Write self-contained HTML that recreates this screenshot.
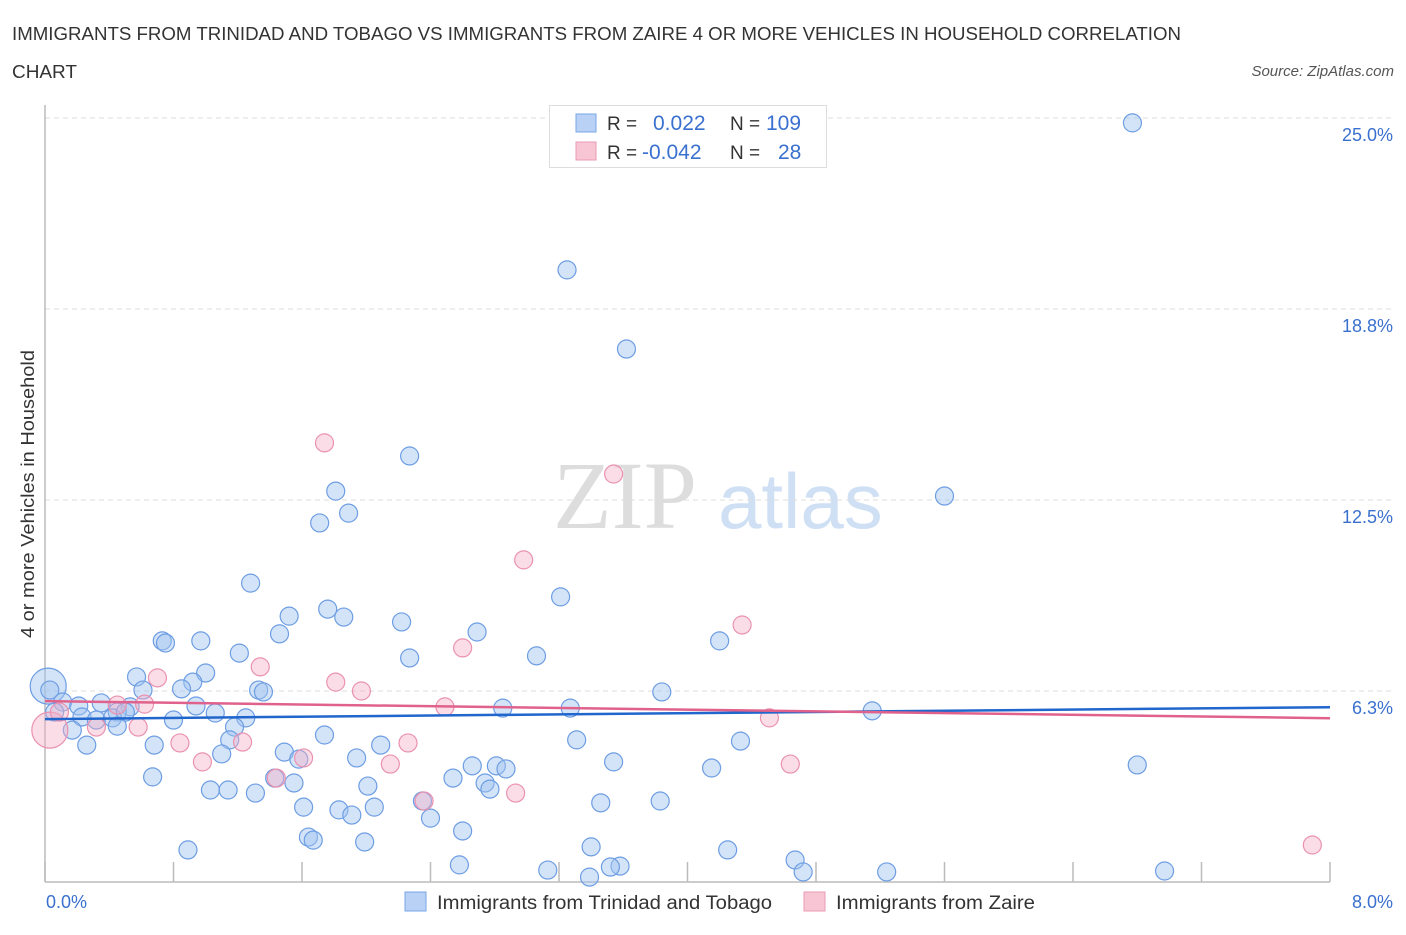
<!DOCTYPE html>
<html><head><meta charset="utf-8"><style>
body{margin:0;background:#fff;font-family:"Liberation Sans",sans-serif;}
svg text{font-family:"Liberation Sans",sans-serif;}
</style></head><body>
<svg width="1406" height="930" viewBox="0 0 1406 930" xmlns="http://www.w3.org/2000/svg">
<text x="12" y="40" font-size="18" fill="#333" textLength="1169" lengthAdjust="spacingAndGlyphs">IMMIGRANTS FROM TRINIDAD AND TOBAGO VS IMMIGRANTS FROM ZAIRE 4 OR MORE VEHICLES IN HOUSEHOLD CORRELATION</text>
<text x="12" y="78" font-size="18" fill="#333" textLength="65" lengthAdjust="spacingAndGlyphs">CHART</text>
<text x="1394" y="76" font-size="15" fill="#555" font-style="italic" text-anchor="end">Source: ZipAtlas.com</text>
<g>
<text x="553" y="528" font-size="96" fill="#ddd" font-family="Liberation Serif,serif" style="font-family:'Liberation Serif',serif">ZIP</text>
<text x="718" y="528" font-size="78" fill="#cfe0f5">atlas</text>
</g>
<g id="grid"></g>
<g id="axes"></g>
<g id="marks"></g>
<g id="trends"></g>
<text x="34" y="494" font-size="18" fill="#333" text-anchor="middle" textLength="288" lengthAdjust="spacingAndGlyphs" transform="rotate(-90 34 494)">4 or more Vehicles in Household</text>
<g>
<rect x="549.5" y="105.5" width="277" height="62" fill="#fff" stroke="#ddd"/>
<rect x="576" y="114" width="20" height="18" fill="#b8d1f5" stroke="#7aa6e6"/>
<rect x="576" y="142" width="20" height="18" fill="#f8c5d5" stroke="#eb9ab4"/>
<text x="607" y="130" font-size="19" fill="#333">R =</text>
<text x="653" y="130" font-size="21" fill="#3a70cf">0.022</text>
<text x="730" y="130" font-size="19" fill="#333">N =</text>
<text x="766" y="130" font-size="21" fill="#3a70cf">109</text>
<text x="607" y="159" font-size="19" fill="#333">R =</text>
<text x="642" y="159" font-size="21" fill="#3a70cf">-0.042</text>
<text x="730" y="159" font-size="19" fill="#333">N =</text>
<text x="778" y="159" font-size="21" fill="#3a70cf">28</text>
</g>
<g>
<rect x="405" y="892" width="21" height="19" fill="#b8d1f5" stroke="#7aa6e6"/>
<text x="437" y="909" font-size="19" fill="#333" textLength="335" lengthAdjust="spacingAndGlyphs">Immigrants from Trinidad and Tobago</text>
<rect x="804" y="892" width="21" height="19" fill="#f8c5d5" stroke="#eb9ab4"/>
<text x="836" y="909" font-size="19" fill="#333" textLength="199" lengthAdjust="spacingAndGlyphs">Immigrants from Zaire</text>
</g>
</svg>
<script>
const yTicks=[6.25,12.5,18.75,25];
const yTickLabels=["6.3%","12.5%","18.8%","25.0%"];
const xTicks=[0,0.8,1.6,2.4,3.2,4.0,4.8,5.6,6.4,7.2,8.0];
const xTickLabels=["0.0%","8.0%"];
const blueX=[6.77,3.25,3.62,2.27,5.60,1.81,1.89,1.71,1.28,3.21,1.52,1.76,1.86,2.22,2.69,1.46,0.73,0.75,0.97,4.20,1.21,2.27,3.06,1.00,0.92,0.57,0.85,0.61,1.33,1.36,3.84,0.02,0.03,0.11,0.21,0.35,0.53,0.45,0.94,1.06,1.25,0.80,2.85,3.27,5.15,0.06,0.23,0.32,0.42,0.50,0.45,0.17,1.18,1.74,1.15,3.31,4.33,0.26,0.68,2.09,1.10,1.49,1.58,1.94,3.54,6.80,2.66,2.81,2.87,4.15,0.67,1.43,1.55,2.54,2.74,2.77,2.01,1.03,1.14,1.31,2.35,3.46,3.83,1.61,1.83,2.05,1.91,2.40,2.60,1.64,1.67,1.99,0.89,3.40,4.25,2.58,4.67,3.13,3.58,3.52,4.72,5.24,6.97,3.39];
const blueY=[24.84,20.03,17.44,13.94,12.63,12.79,12.07,11.75,9.78,9.33,8.70,8.93,8.67,8.51,8.18,8.12,7.89,7.82,7.89,7.89,7.49,7.33,7.40,6.84,6.54,6.71,6.32,6.28,6.28,6.22,6.22,6.41,6.28,5.89,5.76,5.86,5.73,5.56,5.76,5.53,5.37,5.30,5.69,5.69,5.60,5.56,5.40,5.30,5.37,5.56,5.10,4.97,5.07,4.81,4.65,4.65,4.61,4.48,4.48,4.48,4.19,4.25,4.02,4.06,3.93,3.83,3.80,3.80,3.70,3.73,3.44,3.40,3.24,3.40,3.24,3.04,3.14,3.01,3.01,2.91,2.65,2.59,2.65,2.45,2.36,2.45,2.19,2.09,1.67,1.47,1.37,1.31,1.05,1.15,1.05,0.56,0.72,0.39,0.52,0.49,0.33,0.33,0.36,0.16];
const blueBig=[31];
const pinkX=[1.74,3.54,2.98,4.34,2.60,1.34,0.70,1.81,1.97,2.49,0.45,0.62,4.51,0.03,0.32,0.58,0.84,1.23,2.26,0.98,1.61,2.15,4.64,1.44,2.36,2.93,7.89,0.09];
const pinkY=[14.37,13.35,10.54,8.41,7.66,7.04,6.68,6.54,6.25,5.73,5.79,5.82,5.37,4.97,5.07,5.07,4.55,4.58,4.55,3.93,4.06,3.86,3.86,3.40,2.65,2.91,1.21,5.56];
const pinkBig=[13];
const blueTrend=[5.33,5.72];
const pinkTrend=[5.92,5.36];
const NS="http://www.w3.org/2000/svg";
const X0=45,X1=1330,Y0=882,YTOP=118;
const sx=v=>X0+(v/8)*(X1-X0);
const sy=v=>Y0-(v/25)*(Y0-YTOP);
function mk(tag,attrs,parent){const e=document.createElementNS(NS,tag);for(const k in attrs)e.setAttribute(k,attrs[k]);parent.appendChild(e);return e;}
const grid=document.getElementById('grid'),axes=document.getElementById('axes'),marks=document.getElementById('marks'),trends=document.getElementById('trends');
yTicks.forEach((t,i)=>{
 const l=mk('line',{x1:X0,x2:1392,y1:sy(t),y2:sy(t),stroke:'#ddd','stroke-dasharray':'5,4'},grid);
 
 
 const tx=mk('text',{x:1393,y:sy(t)+23,'font-size':18,fill:'#3a70cf','text-anchor':'end'},axes);
 tx.textContent=yTickLabels[i];
 
 
});
const ya=mk('line',{x1:X0,x2:X0,y1:105,y2:Y0,stroke:'#bbb','stroke-width':1.5},axes);


const xa=mk('line',{x1:X0,x2:X1,y1:Y0,y2:Y0,stroke:'#bbb','stroke-width':1.5},axes);


xTicks.forEach(t=>{
 const l=mk('line',{x1:sx(t),x2:sx(t),y1:Y0-20,y2:Y0,stroke:'#bbb','stroke-width':1.5},axes);
 
 
});
const xl0=mk('text',{x:46,y:908,'font-size':18,fill:'#3a70cf'},axes);xl0.textContent=xTickLabels[0];


const xl1=mk('text',{x:1393,y:908,'font-size':18,fill:'#3a70cf','text-anchor':'end'},axes);xl1.textContent=xTickLabels[1];


function dots(xs,ys,big,fill,stroke,name){
 xs.forEach((x,i)=>{
  const r=big.includes(i)?18:9;
  const c=mk('circle',{cx:sx(x),cy:sy(ys[i]),r:r,fill:fill,stroke:stroke,'stroke-width':1.2},marks);
  
  
 });
}
dots(blueX,blueY,blueBig,'rgba(160,195,240,0.45)','#6d9de3','trinidad-point');
dots(pinkX,pinkY,pinkBig,'rgba(246,175,198,0.42)','#ea92b0','zaire-point');
const bt=mk('line',{x1:sx(0),x2:sx(8),y1:sy(blueTrend[0]),y2:sy(blueTrend[1]),stroke:'#2166cc','stroke-width':2.5},trends);


const pt=mk('line',{x1:sx(0),x2:sx(8),y1:sy(pinkTrend[0]),y2:sy(pinkTrend[1]),stroke:'#e0628c','stroke-width':2.5},trends);


</script>
</body></html>
